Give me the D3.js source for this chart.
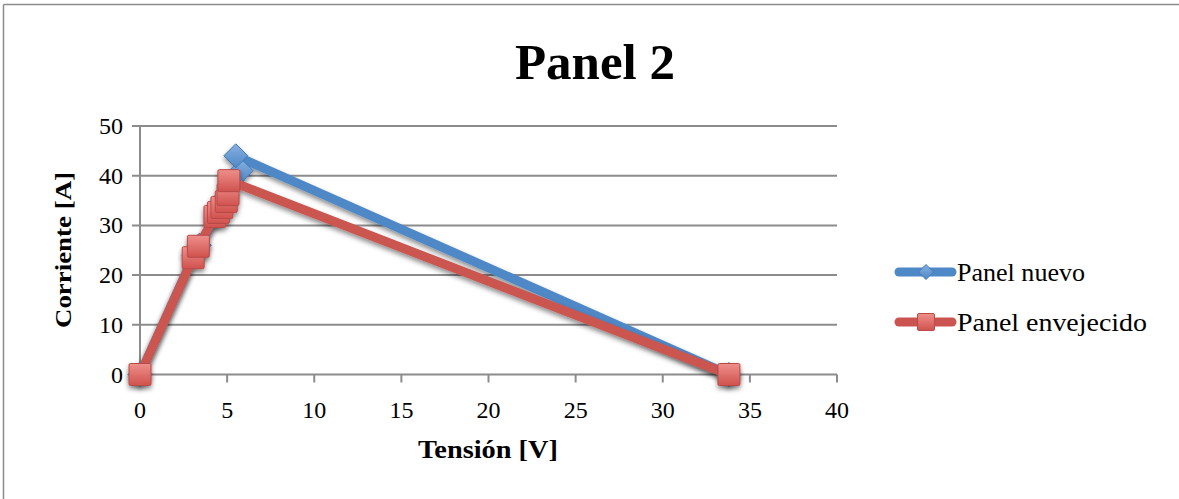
<!DOCTYPE html>
<html><head><meta charset="utf-8">
<script src="https://cdn.jsdelivr.net/npm/d3@7"></script>
<style>body{margin:0;background:#fff}svg{display:block}text{font-family:"Liberation Serif",serif;fill:#000}</style>
</head><body>
<svg id="c" width="1179" height="499"></svg>
<script>
const title = "Panel 2";
const seriesNames = ["Panel nuevo", "Panel envejecido"];
const xTicks = [0,5,10,15,20,25,30,35,40];
const yTicks = [0,10,20,30,40,50];
const voltNuevo = [0, 3.1, 3.4, 4.4, 4.7, 5.0, 5.3, 5.8, 5.5, 33.8];
const currNuevo = [0, 24, 26, 32, 34, 36, 39, 41, 44, 0];
const voltEnv = [0, 3.05, 3.35, 4.3, 4.5, 4.7, 4.95, 5.05, 5.1, 33.8];
const currEnv = [0, 23.5, 25.8, 31.8, 32.6, 33.6, 34.8, 36.2, 39, 0];

const svg = d3.select("#c");
const defs = svg.append("defs");
const f = defs.append("filter").attr("id","sh").attr("x","-50%").attr("y","-50%").attr("width","200%").attr("height","200%");
f.append("feDropShadow").attr("dx",0).attr("dy",3).attr("stdDeviation",2.5).attr("flood-color","#000").attr("flood-opacity",0.45);
const gR = defs.append("linearGradient").attr("id","gR").attr("x1",0).attr("y1",0).attr("x2",0).attr("y2",1);
gR.append("stop").attr("offset","0").attr("stop-color","#ee8f8b");
gR.append("stop").attr("offset","1").attr("stop-color","#d0524e");
const gB = defs.append("linearGradient").attr("id","gB").attr("x1",0).attr("y1",0).attr("x2",0).attr("y2",1);
gB.append("stop").attr("offset","0").attr("stop-color","#86b0e0");
gB.append("stop").attr("offset","1").attr("stop-color","#4f88c6");

// frame (top and left edges visible)
svg.append("line").attr("x1",3.5).attr("x2",1179).attr("y1",4.5).attr("y2",4.5).attr("stroke","#8c8c8c").attr("stroke-width",1.5);
svg.append("line").attr("x1",3.5).attr("x2",3.5).attr("y1",4.5).attr("y2",499).attr("stroke","#8c8c8c").attr("stroke-width",1.5);

const x = d3.scaleLinear().domain([0,40]).range([140,837]);
const y = d3.scaleLinear().domain([0,50]).range([374.5,126]);

// gridlines
svg.append("g").selectAll("line").data(yTicks).join("line")
  .attr("x1",132).attr("x2",837).attr("y1",d=>y(d)).attr("y2",d=>y(d))
  .attr("stroke","#8c8c8c").attr("stroke-width",2);
svg.append("line").attr("x1",x(0)).attr("x2",x(0)).attr("y1",y(50)).attr("y2",y(0)).attr("stroke","#8c8c8c").attr("stroke-width",2);
svg.append("g").selectAll("line").data(xTicks).join("line")
  .attr("x1",d=>x(d)).attr("x2",d=>x(d)).attr("y1",y(0)).attr("y2",y(0)+8)
  .attr("stroke","#8c8c8c").attr("stroke-width",2);

// tick labels
svg.append("g").selectAll("text").data(yTicks).join("text")
  .attr("x",123).attr("y",d=>y(d)+8).attr("text-anchor","end").attr("font-size",24).text(d=>d);
svg.append("g").selectAll("text").data(xTicks).join("text")
  .attr("x",d=>x(d)).attr("y",418).attr("text-anchor","middle").attr("font-size",24).text(d=>d);

// titles
svg.append("text").attr("x",595).attr("y",79).attr("text-anchor","middle").attr("font-size",51).attr("font-weight","bold").text(title);
svg.append("text").attr("x",488).attr("y",458).attr("text-anchor","middle").attr("font-size",25).attr("font-weight","bold")
  .attr("textLength",140).attr("lengthAdjust","spacingAndGlyphs").text("Tensión [V]");
svg.append("text").attr("transform","translate(71,250) rotate(-90)").attr("text-anchor","middle").attr("font-size",24).attr("font-weight","bold")
  .attr("textLength",156).attr("lengthAdjust","spacingAndGlyphs").text("Corriente [A]");

const line = d3.line().x(d=>x(d[0])).y(d=>y(d[1]));
const ptsN = voltNuevo.map((v,i)=>[v,currNuevo[i]]);
const ptsE = voltEnv.map((v,i)=>[v,currEnv[i]]);

function diamond(g, cx, cy, s){
  g.append("path").attr("d",`M${cx},${cy-s}L${cx+s},${cy}L${cx},${cy+s}L${cx-s},${cy}Z`)
   .attr("fill","url(#gB)").attr("stroke","#4278b6").attr("stroke-width",1);
}
function square(g, cx, cy, s){
  g.append("rect").attr("x",cx-s).attr("y",cy-s).attr("width",2*s).attr("height",2*s).attr("rx",1.5)
   .attr("fill","url(#gR)").attr("stroke","#b84a47").attr("stroke-width",1);
}

const gN = svg.append("g").attr("filter","url(#sh)");
gN.append("path").datum(ptsN).attr("d",line).attr("fill","none").attr("stroke","#4f88c6").attr("stroke-width",9).attr("stroke-linejoin","round");
ptsN.forEach(p=>diamond(gN, x(p[0]), y(p[1]), 12));

const gE = svg.append("g").attr("filter","url(#sh)");
gE.append("path").datum(ptsE).attr("d",line).attr("fill","none").attr("stroke","#cb5450").attr("stroke-width",9).attr("stroke-linejoin","round");
ptsE.forEach(p=>square(gE, x(p[0]), y(p[1]), 11));

// legend
const lg = svg.append("g");
const legY = [272, 322];
const legColors = ["#4f88c6","#cb5450"];
const legLen = [128, 190];
seriesNames.forEach((n,i)=>{
  lg.append("line").attr("x1",899).attr("x2",952).attr("y1",legY[i]).attr("y2",legY[i])
    .attr("stroke",legColors[i]).attr("stroke-width",9).attr("stroke-linecap","round");
  if(i===0) diamond(lg, 926, legY[i], 7.5); else square(lg, 926, legY[i], 8.5);
  lg.append("text").attr("x",957).attr("y",legY[i]+9).attr("font-size",25)
    .attr("textLength",legLen[i]).attr("lengthAdjust","spacingAndGlyphs").text(n);
});
</script>
</body></html>
